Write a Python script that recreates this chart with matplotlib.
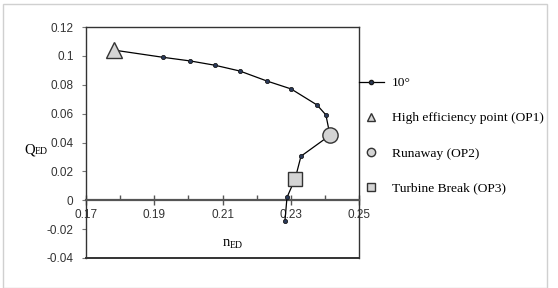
import matplotlib.pyplot as plt
from matplotlib.lines import Line2D
from matplotlib.patches import Rectangle

# 10 deg guide vane opening curve
n_ed = [0.1782, 0.1926, 0.2005, 0.2078, 0.2151, 0.2230, 0.2301, 0.2377,
        0.2403, 0.2415, 0.2330, 0.2313, 0.2289, 0.2283]
q_ed = [0.1040, 0.0990, 0.0965, 0.0935, 0.0895, 0.0826, 0.0771, 0.0660,
        0.0591, 0.0450, 0.0305, 0.0150, 0.0020, -0.0143]

# operating points
op1 = (0.1782, 0.1040)
op2 = (0.2415, 0.0450)
op3 = (0.2313, 0.0150)

serif = ['Liberation Serif', 'DejaVu Serif']
sans = ['Liberation Sans', 'DejaVu Sans']

fig = plt.figure(figsize=(5.58, 2.88), dpi=100)
ax = fig.add_axes([86/558, 30/288, 273/558, 231/288])

ax.plot(n_ed, q_ed, color='black', lw=0.9, marker='o', ms=3,
        mfc='#2b3a5a', mec='#1a1a1a', mew=0.6, zorder=3)
ax.plot(*op1, marker='^', ms=11, mfc='#d4d4d4', mec='#333333', mew=1, ls='none', zorder=4)
ax.plot(*op2, marker='o', ms=11, mfc='#d4d4d4', mec='#333333', mew=1, ls='none', zorder=4)
ax.plot(*op3, marker='s', ms=10, mfc='#d4d4d4', mec='#333333', mew=1, ls='none', zorder=4)

ax.set_xlim(0.17, 0.25)
ax.set_ylim(-0.04, 0.12)
ax.set_xticks([0.17, 0.19, 0.21, 0.23, 0.25])
ax.set_xticks([0.18, 0.20, 0.22, 0.24], minor=True)
ax.set_xticklabels(['0.17', '0.19', '0.21', '0.23', '0.25'])
ax.set_yticks([-0.04, -0.02, 0, 0.02, 0.04, 0.06, 0.08, 0.1, 0.12])
ax.set_yticklabels(['-0.04', '-0.02', '0', '0.02', '0.04', '0.06', '0.08', '0.1', '0.12'])

ax.spines['bottom'].set_position(('data', 0))
ax.spines['bottom'].set_color('#555555')
ax.spines['bottom'].set_linewidth(1.6)
for s in ['left', 'right', 'top']:
    ax.spines[s].set_color('#333333')
    ax.spines[s].set_linewidth(1.0)
ax.axhline(-0.04, color='#333333', lw=1.4, clip_on=False)

ax.tick_params(axis='x', which='major', direction='inout', length=7, width=1,
               color='#555555', labelsize=8.5, labelcolor='#333333', pad=3)
ax.tick_params(axis='x', which='minor', direction='in', length=3.5, width=1, color='#555555')
ax.tick_params(axis='y', direction='out', length=3, width=0.8, color='#777777',
               labelsize=8.5, labelcolor='#333333', pad=6)
for lab in ax.get_xticklabels() + ax.get_yticklabels():
    lab.set_family(sans)

fig.text(230/558, 1 - 243/288, 'n', fontsize=10.5, family=serif, ha='right', va='center')
fig.text(230/558, 1 - 245/288, 'ED', fontsize=7, family=serif, ha='left', va='center')
fig.text(35/558, 1 - 150/288, 'Q', fontsize=10.5, family=serif, ha='right', va='center')
fig.text(35/558, 1 - 152/288, 'ED', fontsize=7, family=serif, ha='left', va='center')

handles = [
    Line2D([], [], color='black', lw=0.9, marker='o', ms=3, mfc='#2b3a5a', mec='#1a1a1a'),
    Line2D([], [], ls='none', marker='^', ms=6, mfc='#d4d4d4', mec='#333333', mew=1),
    Line2D([], [], ls='none', marker='o', ms=6, mfc='#d4d4d4', mec='#333333', mew=1),
    Line2D([], [], ls='none', marker='s', ms=6, mfc='#d4d4d4', mec='#333333', mew=1),
]
labels = ['10°', 'High efficiency point (OP1)', 'Runaway (OP2)', 'Turbine Break (OP3)']
fig.legend(handles, labels, loc='upper left', bbox_to_anchor=(359/558, 1 - 77/288),
           frameon=False, prop={'family': serif, 'size': 9.7}, handlelength=1.85,
           handletextpad=0.6, labelspacing=1.68, borderaxespad=0, borderpad=0)

fig.patches.append(Rectangle((3/558, 0), 544/558, 1 - 4/288, transform=fig.transFigure,
                             fill=False, ec='#d0d0d0', lw=1))

fig.savefig('out.png', dpi=100)
